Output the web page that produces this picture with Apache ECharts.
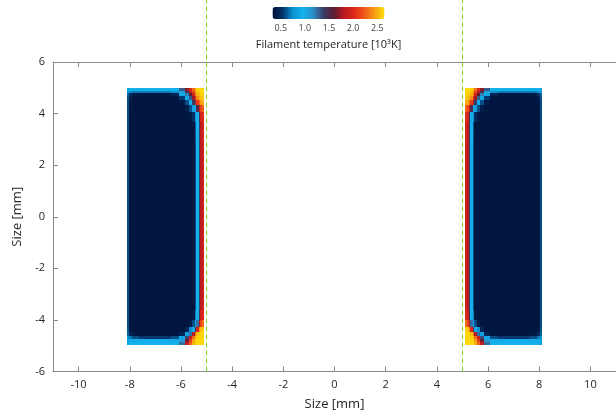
<!DOCTYPE html>
<html><head><meta charset="utf-8">
<script src="https://cdn.jsdelivr.net/npm/echarts@6/dist/echarts.min.js"></script>
<style>html,body{margin:0;padding:0;background:#fff}#c{width:616px;height:417px}</style>
</head><body><div id="c"></div>
<script>
// Left filament: column edges (mm, left->right) and row edges (mm, top->bottom)
const xEdges = [-8.11, -8.03, -7.9, -7.62, -6.85, -6.38, -6.07, -5.84, -5.69, -5.57, -5.47, -5.42, -5.3, -5.24, -5.18, -5.1];
const yEdges = [5.0, 4.88, 4.79, 4.67, 4.52, 4.32, 4.05, 3.66, 2.97, 0.64, -2.46, -3.62, -4.01, -4.28, -4.48, -4.63, -4.75, -4.86, -4.97];
const N = 0.35;
// temperature [10^3 K], rows top->bottom, columns left->right (left filament)
const temps = [
  [0.85, 0.95, 0.95, 0.95, 0.95, 0.95, 1.3, 1.7, 2.0, 2.3, 2.5, 2.6, 2.62, 2.63, 2.63],
  [0.8, 0.75, 0.7, 0.7, 0.7, 0.75, 1.05, 1.45, 1.85, 2.15, 2.4, 2.55, 2.6, 2.62, 2.62],
  [0.65, 0.5, 0.4, 0.37, 0.37, 0.45, 0.9, 1.2, 1.6, 1.95, 2.35, 2.5, 2.55, 2.6, 2.6],
  [0.62, 0.42, N, N, N, 0.36, 0.55, 0.9, 1.3, 1.75, 2.05, 2.4, 2.5, 2.55, 2.58],
  [0.6, 0.38, N, N, N, N, 0.38, 0.6, 0.95, 1.4, 1.8, 2.1, 2.3, 2.45, 2.5],
  [0.6, 0.36, N, N, N, N, N, 0.4, 0.6, 0.85, 1.0, 1.5, 1.9, 2.15, 2.25],
  [0.6, N, N, N, N, N, N, N, 0.38, 0.5, 0.8, 1.0, 1.45, 1.95, 2.05],
  [0.6, N, N, N, N, N, N, N, N, N, 0.62, 0.95, 1.38, 1.85, 1.95],
  [0.6, N, N, N, N, N, N, N, N, N, 0.6, 0.95, 1.38, 1.83, 1.92],
  [0.6, N, N, N, N, N, N, N, N, N, 0.6, 0.95, 1.38, 1.83, 1.92],
  [0.6, N, N, N, N, N, N, N, N, N, 0.6, 0.95, 1.38, 1.83, 1.92],
  [0.6, N, N, N, N, N, N, N, N, 0.38, 0.72, 1.0, 1.45, 1.92, 2.02],
  [0.6, N, N, N, N, N, N, N, 0.4, 0.6, 0.9, 1.25, 1.75, 2.15, 2.3],
  [0.62, 0.38, N, N, N, N, N, 0.45, 0.75, 1.0, 1.45, 2.0, 2.4, 2.55, 2.6],
  [0.65, 0.48, 0.38, N, N, N, 0.45, 0.85, 1.25, 1.8, 2.3, 2.55, 2.6, 2.62, 2.62],
  [0.75, 0.7, 0.6, 0.55, 0.55, 0.6, 0.9, 1.35, 1.9, 2.3, 2.55, 2.6, 2.62, 2.62, 2.62],
  [0.85, 0.92, 0.92, 0.92, 0.92, 0.92, 1.1, 1.65, 2.1, 2.45, 2.6, 2.62, 2.62, 2.62, 2.62],
  [0.85, 0.95, 0.95, 0.95, 0.95, 0.95, 1.25, 1.85, 2.25, 2.5, 2.6, 2.63, 2.63, 2.63, 2.63]
];
const xTicks = [-10, -8, -6, -4, -2, 0, 2, 4, 6, 8, 10];
const yTicks = [-6, -4, -2, 0, 2, 4, 6];
const cbTicks = [0.5, 1.0, 1.5, 2.0, 2.5];
const cbMin = 0.33, cbMax = 2.65;
const guideX = [-5, 5];
const cmap = ['#00123a', '#04346a', '#0a92d2', '#14b2ee', '#2c8cc4', '#3a3c66', '#5a1c34', '#b81a20', '#dc2818', '#f0581a', '#f89a14', '#fee10a'];

// cells: left filament as read, right filament is its mirror image
const cells = [];
for (let i = 0; i < temps.length; i++) {
  for (let j = 0; j < temps[i].length; j++) {
    cells.push([xEdges[j], xEdges[j + 1], yEdges[i], yEdges[i + 1], temps[i][j]]);
    cells.push([-xEdges[j + 1], -xEdges[j], yEdges[i], yEdges[i + 1], temps[i][j]]);
  }
}

const FONT = 'Open Sans';
const axisGray = '#8a8a8a';
const txt = '#262626';

const chart = echarts.init(document.getElementById('c'), null, {renderer: 'canvas'});
const option = {
  animation: false,
  backgroundColor: '#fff',
  textStyle: {fontFamily: FONT},
  grid: [
    {left: 53, top: 62, width: 567.5, height: 309.5},
    {left: 272.5, top: 7, width: 112, height: 12}
  ],
  visualMap: {
    type: 'continuous', min: cbMin, max: cbMax, orient: 'horizontal',
    left: 272.5, top: 7, itemWidth: 12, itemHeight: 112, padding: 0,
    calculable: false, showLabel: false, text: null, hoverLink: false,
    seriesIndex: 0, dimension: 4,
    inRange: {color: cmap}
  },
  xAxis: [
    {gridIndex: 0, type: 'value', min: -11, max: 11, position: 'bottom',
     axisLine: {show: true, onZero: false, lineStyle: {color: axisGray, width: 1}},
     axisTick: {show: true, inside: true, length: 5, customValues: xTicks, lineStyle: {color: axisGray}},
     axisLabel: {customValues: xTicks, color: txt, fontSize: 11, margin: 8, fontFamily: FONT},
     splitLine: {show: false},
     name: 'Size [mm]', nameLocation: 'middle', nameGap: 26,
     nameTextStyle: {color: txt, fontSize: 13, fontFamily: FONT}},
    {gridIndex: 0, type: 'value', min: -11, max: 11, position: 'top',
     axisLine: {show: true, onZero: false, lineStyle: {color: axisGray, width: 1}},
     axisTick: {show: true, inside: true, length: 5, customValues: xTicks, lineStyle: {color: axisGray}},
     axisLabel: {show: false}, splitLine: {show: false}},
    {gridIndex: 1, type: 'value', min: cbMin, max: cbMax,
     axisLine: {show: false}, axisTick: {show: false}, splitLine: {show: false},
     axisLabel: {customValues: cbTicks, formatter: v => v.toFixed(1), color: '#444', fontSize: 9, margin: 5, fontFamily: FONT},
     name: 'Filament temperature [10\u00B3K]', nameLocation: 'middle', nameGap: 20,
     nameTextStyle: {color: txt, fontSize: 11, fontFamily: FONT}}
  ],
  yAxis: [
    {gridIndex: 0, type: 'value', min: -6, max: 6, interval: 2,
     axisLine: {show: true, onZero: false, lineStyle: {color: axisGray, width: 1}},
     axisTick: {show: true, inside: true, length: 5, lineStyle: {color: axisGray}},
     axisLabel: {color: txt, fontSize: 11, margin: 8, fontFamily: FONT},
     splitLine: {show: false},
     name: 'Size [mm]', nameLocation: 'middle', nameGap: 28,
     nameTextStyle: {color: txt, fontSize: 13, fontFamily: FONT}},
    {gridIndex: 1, type: 'value', min: 0, max: 1, show: false}
  ],
  series: [
    {
      type: 'custom', xAxisIndex: 0, yAxisIndex: 0, silent: true,
      dimensions: ['x0', 'x1', 'yTop', 'yBot', 'T'],
      encode: {x: [0, 1], y: [2, 3]},
      data: cells,
      renderItem: function (params, api) {
        const a = api.coord([api.value(0), api.value(2)]);
        const b = api.coord([api.value(1), api.value(3)]);
        const x0 = Math.round(Math.min(a[0], b[0])), x1 = Math.round(Math.max(a[0], b[0]));
        const y0 = Math.round(Math.min(a[1], b[1])), y1 = Math.round(Math.max(a[1], b[1]));
        return {type: 'rect', shape: {x: x0, y: y0, width: x1 - x0, height: y1 - y0},
                style: {fill: api.visual('color')}};
      }
    }
  ].concat(guideX.map(g => ({
    type: 'line', xAxisIndex: 0, yAxisIndex: 0, clip: false, silent: true,
    symbol: 'none', data: [[g, -6], [g, 8.4]],
    lineStyle: {color: '#7dd321', width: 1, type: [5, 3]}
  })))
};
chart.setOption(option);
</script>
</body></html>
